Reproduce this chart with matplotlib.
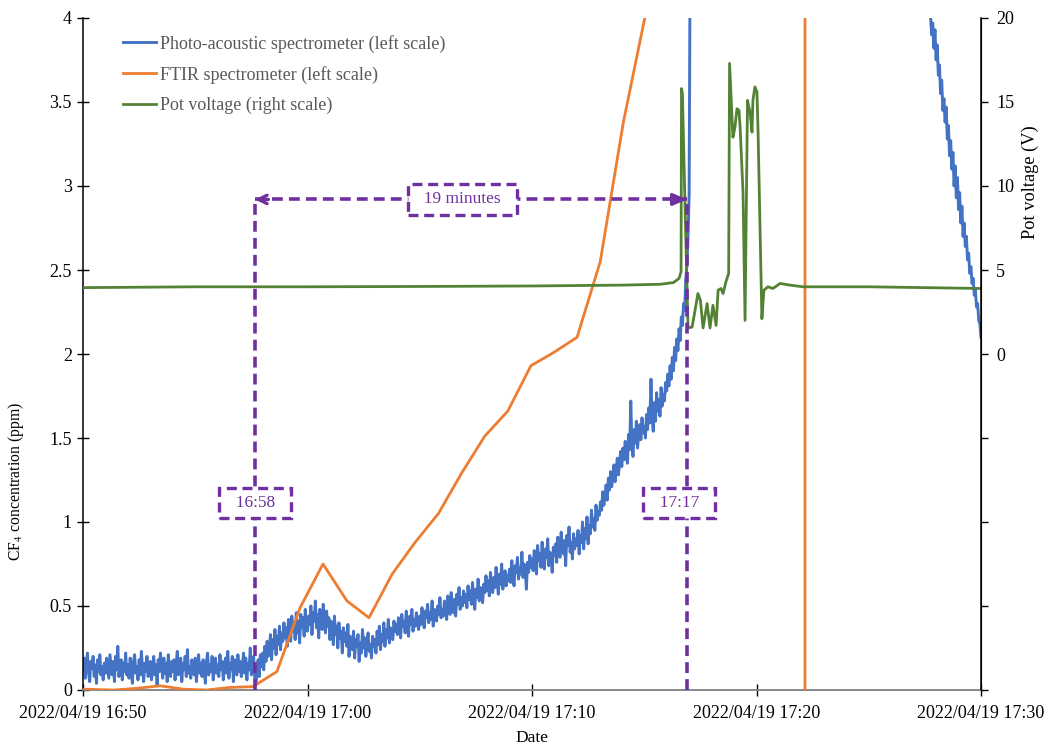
import matplotlib
matplotlib.use("Agg")
import matplotlib.pyplot as plt
import matplotlib.dates as mdates
from matplotlib.ticker import FuncFormatter, MultipleLocator
from datetime import datetime, timedelta
import numpy as np

plt.rcParams["font.family"] = ["Liberation Serif", "DejaVu Serif"]
plt.rcParams["mathtext.fontset"] = "stix"

START = datetime(2022, 4, 19, 16, 50)

# Photo-acoustic spectrometer, one reading every 3 s from 16:50:00 (ppm)
pa_step_min = 0.05
pa_main = [
    0.12, 0.19, 0.07, 0.16, 0.22, 0.10, 0.05, 0.17, 0.13, 0.20, 0.08, 0.15, 0.04, 0.18, 0.11, 0.21, 0.09, 0.14, 0.06, 0.16,
    0.10, 0.19, 0.13, 0.07, 0.21, 0.15, 0.09, 0.17, 0.05, 0.20, 0.12, 0.26, 0.08, 0.14, 0.18, 0.06, 0.16, 0.11, 0.22, 0.09,
    0.15, 0.07, 0.19, 0.12, 0.04, 0.17, 0.21, 0.10, 0.14, 0.06, 0.18, 0.09, 0.23, 0.13, 0.05, 0.16, 0.11, 0.20, 0.08, 0.14,
    0.17, 0.06, 0.12, 0.20, 0.09, 0.15, 0.03, 0.18, 0.11, 0.22, 0.14, 0.07, 0.19, 0.10, 0.16, 0.05, 0.21, 0.12, 0.08, 0.17,
    0.11, 0.18, 0.06, 0.15, 0.23, 0.09, 0.13, 0.19, 0.05, 0.16, 0.12, 0.20, 0.08, 0.24, 0.10, 0.14, 0.07, 0.18, 0.13, 0.09,
    0.19, 0.05, 0.14, 0.21, 0.10, 0.16, 0.08, 0.18, 0.12, 0.04, 0.17, 0.22, 0.09, 0.15, 0.11, 0.20, 0.06, 0.13, 0.19, 0.10,
    0.15, 0.08, 0.21, 0.12, 0.17, 0.06, 0.14, 0.19, 0.10, 0.23, 0.07, 0.16, 0.12, 0.20, 0.05, 0.18, 0.13, 0.09, 0.21, 0.11,
    0.17, 0.08, 0.14, 0.22, 0.10, 0.19, 0.06, 0.16, 0.12, 0.25, 0.09, 0.15, 0.20, 0.07, 0.03, 0.10, 0.18, 0.08, 0.21, 0.14,
    0.22, 0.12, 0.26, 0.17, 0.29, 0.20, 0.24, 0.33, 0.18, 0.30, 0.25, 0.36, 0.21, 0.32, 0.27, 0.38, 0.24, 0.34, 0.29, 0.40,
    0.31, 0.37, 0.26, 0.42, 0.33, 0.29, 0.44, 0.35, 0.40, 0.30, 0.46, 0.34, 0.41, 0.28, 0.45, 0.37, 0.43, 0.32, 0.48, 0.38,
    0.35, 0.44, 0.39, 0.50, 0.33, 0.46, 0.41, 0.53, 0.37, 0.45, 0.31, 0.48, 0.40, 0.36, 0.51, 0.42, 0.34, 0.47, 0.38, 0.43,
    0.30, 0.41, 0.36, 0.27, 0.44, 0.33, 0.38, 0.25, 0.40, 0.31, 0.35, 0.22, 0.37, 0.29, 0.34, 0.26, 0.39, 0.20, 0.32, 0.28,
    0.24, 0.35, 0.19, 0.30, 0.26, 0.33, 0.17, 0.28, 0.22, 0.36, 0.25, 0.31, 0.20, 0.29, 0.34, 0.23, 0.27, 0.19, 0.32, 0.26,
    0.30, 0.22, 0.35, 0.27, 0.38, 0.24, 0.33, 0.29, 0.40, 0.26, 0.36, 0.31, 0.42, 0.28, 0.37, 0.33, 0.30, 0.41, 0.35, 0.39,
    0.33, 0.43, 0.36, 0.31, 0.45, 0.38, 0.41, 0.34, 0.47, 0.37, 0.32, 0.44, 0.39, 0.48, 0.35, 0.42, 0.38, 0.46, 0.40, 0.36,
    0.44, 0.39, 0.49, 0.41, 0.37, 0.47, 0.43, 0.51, 0.40, 0.46, 0.42, 0.53, 0.38, 0.48, 0.44, 0.41, 0.50, 0.45, 0.55, 0.43,
    0.48, 0.44, 0.53, 0.47, 0.42, 0.56, 0.49, 0.45, 0.58, 0.50, 0.46, 0.54, 0.44, 0.57, 0.51, 0.61, 0.48, 0.55, 0.50, 0.59,
    0.52, 0.57, 0.49, 0.62, 0.54, 0.59, 0.51, 0.64, 0.56, 0.48, 0.60, 0.55, 0.66, 0.53, 0.61, 0.57, 0.52, 0.63, 0.58, 0.68,
    0.59, 0.65, 0.56, 0.70, 0.62, 0.58, 0.67, 0.61, 0.73, 0.64, 0.57, 0.69, 0.63, 0.75, 0.60, 0.66, 0.71, 0.62, 0.68, 0.65,
    0.72, 0.64, 0.77, 0.68, 0.62, 0.74, 0.70, 0.79, 0.66, 0.73, 0.69, 0.82, 0.67, 0.75, 0.71, 0.60, 0.76, 0.70, 0.80, 0.73,
    0.78, 0.71, 0.83, 0.75, 0.69, 0.86, 0.77, 0.81, 0.73, 0.88, 0.76, 0.72, 0.84, 0.79, 0.90, 0.74, 0.82, 0.78, 0.70, 0.85,
    0.80, 0.87, 0.76, 0.91, 0.83, 0.79, 0.94, 0.85, 0.81, 0.89, 0.74, 0.92, 0.86, 0.97, 0.82, 0.88, 0.78, 0.93, 0.84, 0.90,
    0.86, 0.95, 0.81, 0.92, 0.88, 1.00, 0.84, 0.96, 0.90, 1.03, 0.87, 0.98, 0.93, 1.07, 0.97, 1.02, 0.95, 1.10, 1.01, 1.06,
    1.04, 1.12, 1.07, 1.18, 1.10, 1.15, 1.22, 1.13, 1.26, 1.19, 1.30, 1.21, 1.27, 1.34, 1.24, 1.31, 1.38, 1.28, 1.35, 1.42,
    1.33, 1.44, 1.37, 1.48, 1.40, 1.35, 1.52, 1.43, 1.72, 1.46, 1.39, 1.55, 1.47, 1.60, 1.44, 1.51, 1.58, 1.49, 1.62, 1.53,
    1.57, 1.50, 1.64, 1.55, 1.68, 1.59, 1.85, 1.62, 1.54, 1.71, 1.60, 1.77, 1.66, 1.73, 1.63, 1.80, 1.69, 1.76, 1.72, 1.83,
    1.78, 1.88, 1.81, 1.93, 1.85, 1.98, 1.90, 2.04, 1.96, 2.09, 2.02, 2.15, 2.08, 2.22, 2.17, 2.30, 2.26, 2.45, 2.52, 2.70,
    2.95, 4.60,
]
# readings back on scale from 17:27:42
pa_tail_start_min = 37.7
pa_tail = [
    4.30, 4.02, 3.90, 3.97, 3.82, 3.93, 3.75, 3.84, 3.66, 3.72, 3.55, 3.63, 3.45, 3.52, 3.38, 3.47, 3.28, 3.36, 3.18, 3.27,
    3.10, 3.20, 3.00, 3.12, 2.93, 3.05, 2.86, 2.96, 2.78, 2.88, 2.70, 2.78, 2.64, 2.70, 2.56, 2.60, 2.48, 2.52, 2.42, 2.45,
    2.35, 2.38, 2.28, 2.30, 2.20, 2.18, 2.10,
]

# FTIR spectrometer (minutes after 16:50, ppm)
ftir_min = [0.0, 1.38, 2.41, 3.44, 4.47, 5.50, 6.54, 7.57, 8.64, 9.67,
            10.69, 11.76, 12.74, 13.77, 14.80, 15.83, 16.86, 17.89, 18.92,
            19.95, 20.98, 22.01, 23.04, 24.07, 25.10, 32.16, 32.16]
ftir_ppm = [0.005, 0.0, 0.01, 0.025, 0.005, 0.0, 0.015, 0.02, 0.11, 0.49,
            0.75, 0.53, 0.43, 0.69, 0.88, 1.05, 1.29, 1.51, 1.66,
            1.93, 2.01, 2.10, 2.55, 3.38, 4.05, 4.60, -0.20]

# Pot voltage (minutes after 16:50, V)
volt_min = [0.0, 5.0, 10.0, 15.0, 20.0, 24.0, 25.7, 26.3, 26.55, 26.64,
            26.66, 26.70, 26.82, 26.95, 27.13, 27.25, 27.39, 27.50, 27.62,
            27.80, 27.93, 28.06, 28.20, 28.29, 28.42, 28.51, 28.64, 28.76,
            28.80, 28.95, 29.04, 29.13, 29.22, 29.27, 29.40, 29.49, 29.60,
            29.71, 29.80, 29.84, 29.93, 30.02, 30.07, 30.24, 30.33, 30.51,
            30.73, 31.05, 31.49, 32.07, 35.0, 40.0]
volt_v = [3.95, 4.0, 4.0, 4.02, 4.05, 4.1, 4.15, 4.25, 4.5, 4.9,
          15.8, 15.5, 8.6, 1.55, 1.6, 2.5, 3.6, 3.2, 1.55,
          3.0, 1.55, 2.9, 1.7, 3.8, 3.9, 3.6, 4.3, 4.8,
          17.3, 12.9, 13.5, 14.6, 14.5, 13.5, 9.6, 2.0, 15.1,
          14.4, 13.2, 15.1, 15.9, 15.6, 13.2, 2.1, 3.8, 4.0,
          3.9, 4.2, 4.1, 4.0, 4.0, 3.9]

# Marked instants (minutes after 16:50)
event_start_min = 7.66
event_end_min = 26.90

BLUE = "#4472C4"
ORANGE = "#ED7D31"
GREEN = "#548235"
PURPLE = "#7030A0"
GREY_TEXT = "#595959"


def to_num(minutes):
    return mdates.date2num([START + timedelta(minutes=float(m)) for m in minutes])


def hhmm(minutes):
    t = START + timedelta(minutes=minutes)
    t = (t + timedelta(seconds=30)).replace(second=0, microsecond=0)
    return t.strftime("%H:%M")


pa_main_min = [i * pa_step_min for i in range(len(pa_main))]
pa_tail_min = [pa_tail_start_min + i * pa_step_min for i in range(len(pa_tail))]
pa_x = np.concatenate([to_num(pa_main_min), [np.nan], to_num(pa_tail_min)])
pa_y = np.concatenate([pa_main, [np.nan], pa_tail])

fig = plt.figure(figsize=(10.52, 7.49), dpi=100)
ax = fig.add_axes([83 / 1052, 1 - 690 / 749, 898 / 1052, 672 / 749])
ax2 = ax.twinx()

l1, = ax.plot(pa_x, pa_y, color=BLUE, lw=2.1, zorder=2,
              label="Photo-acoustic spectrometer (left scale)")
l2, = ax.plot(to_num(ftir_min), ftir_ppm, color=ORANGE, lw=2.0, zorder=3,
              label="FTIR spectrometer (left scale)")
l3, = ax2.plot(to_num(volt_min), volt_v, color=GREEN, lw=2.0,
               label="Pot voltage (right scale)")

x0 = mdates.date2num(START)
x1 = mdates.date2num(START + timedelta(minutes=40))
ax.set_xlim(x0, x1)
ax.set_ylim(0, 4)
ax2.set_ylim(-20, 20)

ax.xaxis.set_major_locator(mdates.MinuteLocator(byminute=[0, 10, 20, 30, 40, 50]))
ax.xaxis.set_major_formatter(mdates.DateFormatter("%Y/%m/%d %H:%M"))
ax.yaxis.set_major_locator(MultipleLocator(0.5))
ax.yaxis.set_major_formatter(FuncFormatter(lambda v, p: f"{v:g}"))
ax2.yaxis.set_major_locator(MultipleLocator(5))
ax2.yaxis.set_major_formatter(FuncFormatter(lambda v, p: f"{v:g}" if v >= 0 else ""))

for a in (ax, ax2):
    a.spines["top"].set_visible(False)
ax.spines["bottom"].set_color("#7f7f7f")
ax.spines["bottom"].set_linewidth(1.3)
ax2.spines["bottom"].set_visible(False)
ax.spines["left"].set_linewidth(1.1)
ax2.spines["right"].set_linewidth(1.1)
ax2.spines["left"].set_visible(False)

ax.tick_params(axis="x", direction="inout", length=9, width=1.0, labelsize=13,
               pad=6, colors="black")
ax.tick_params(axis="y", direction="inout", length=8, width=1.0, labelsize=13, pad=4)
ax2.tick_params(axis="y", direction="out", length=5, width=1.0, labelsize=13, pad=6)

ax.set_xlabel("Date", fontsize=12.5)
ax.xaxis.set_label_coords(0.5, -0.06)
ax.set_ylabel("CF$_4$ concentration (ppm)", fontsize=11.3)
ax.yaxis.set_label_coords(-0.064, 0.31)
ax2.set_ylabel("Pot voltage (V)", fontsize=13.2)
ax2.yaxis.set_label_coords(1.0455, 0.756)

leg = ax2.legend(handles=[l1, l2, l3], loc="upper left", frameon=False,
                 bbox_to_anchor=(0.044, 0.975), borderaxespad=0, borderpad=0,
                 handlelength=1.85, handletextpad=0.2, labelspacing=0.72,
                 fontsize=13)
for t in leg.get_texts():
    t.set_color(GREY_TEXT)

# Annotations: interval between the two marked instants
xs = mdates.date2num(START + timedelta(minutes=event_start_min))
xe = mdates.date2num(START + timedelta(minutes=event_end_min))
dash = (0, (3.0, 1.7))
arrow_y = 2.92
ann_z = 10
yv = (arrow_y - 2) * 10
ax2.plot([xs, xs], [-20, yv], color=PURPLE, lw=2.6, ls=dash, zorder=ann_z)
ax2.plot([xe, xe], [-20, (2.89 - 2) * 10], color=PURPLE, lw=2.6, ls=dash, zorder=ann_z)
ax2.plot([xs, xe], [yv, yv], color=PURPLE, lw=2.6, ls=dash, zorder=ann_z)
head = mdates.date2num(START + timedelta(minutes=0.6)) - x0
ax2.annotate("", xy=(xe, yv), xytext=(xe - head, yv),
             arrowprops=dict(arrowstyle="-|>,head_length=0.8,head_width=0.35",
                             color=PURPLE, lw=2.4, shrinkA=0, shrinkB=0), zorder=ann_z)
ax2.annotate("", xy=(xs, yv), xytext=(xs + head, yv),
             arrowprops=dict(arrowstyle="->,head_length=0.6,head_width=0.3",
                             color=PURPLE, lw=2.4, shrinkA=0, shrinkB=0), zorder=ann_z)

box = dict(boxstyle="square,pad=0.42", fc="white", ec=PURPLE, lw=2.4, ls=(0, (3.0, 1.7)))
label_v = (1.113 - 2) * 10
ax2.text(xs, label_v, f"  {hhmm(event_start_min)}  ", color=PURPLE, fontsize=12.5,
         ha="center", va="center", bbox=box, zorder=ann_z + 1)
ax2.text(xe - (xe - xs) * 0.018, label_v, f"  {hhmm(event_end_min)}  ", color=PURPLE,
         fontsize=12.5, ha="center", va="center", bbox=box, zorder=ann_z + 1)
mins = round(event_end_min - event_start_min)
ax2.text(xs + (xe - xs) * 0.48, yv, f"  {mins} minutes  ", color=PURPLE, fontsize=12.5,
         ha="center", va="center", bbox=box, zorder=ann_z + 1)

fig.savefig("out.png", dpi=100)
